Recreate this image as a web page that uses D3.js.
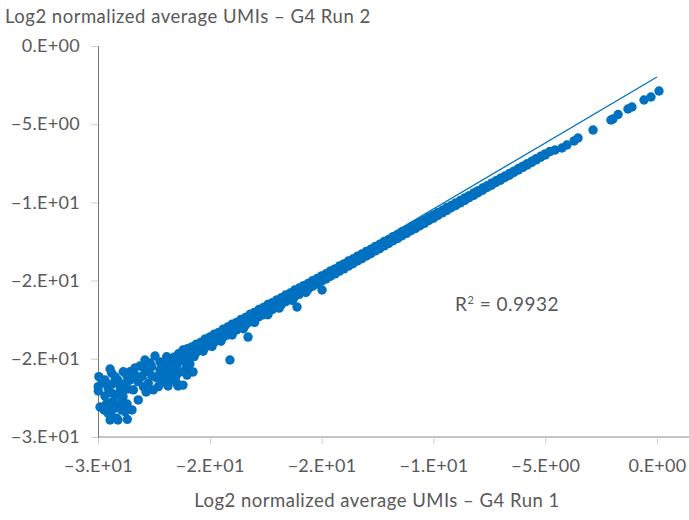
<!DOCTYPE html>
<html lang="en">
<head>
<meta charset="UTF-8">
<title>Log2 normalized average UMIs</title>
<script src="https://cdnjs.cloudflare.com/ajax/libs/d3/7.8.5/d3.min.js"></script>
<style>
  body { margin: 0; background: #fff; }
  svg text { font-family: 'Lato', 'Open Sans', sans-serif; fill: #595959; }
</style>
</head>
<body>
<div id="chart"></div>
<script>
// axis ticks (Excel style rounded scientific labels)
const xTicks = [-25, -20, -15, -10, -5, 0];
const xTickLabels = ["−3.E+01", "−2.E+01", "−2.E+01", "−1.E+01", "−5.E+00", "0.E+00"];
const yTicks = [0, -5, -10, -15, -20, -25];
const yTickLabels = ["0.E+00", "−5.E+00", "−1.E+01", "−2.E+01", "−2.E+01", "−3.E+01"];

// dense band of genes (upper and lower edge of the band)
const bandX = [-22.0,-21.8,-21.6,-21.4,-21.2,-21.0,-20.8,-20.6,-20.4,-20.2,
  -20.0,-19.8,-19.6,-19.4,-19.2,-19.0,-18.8,-18.6,-18.4,-18.2,
  -18.0,-17.8,-17.6,-17.4,-17.2,-17.0,-16.8,-16.6,-16.4,-16.2,
  -16.0,-15.8,-15.6,-15.4,-15.2,-15.0,-14.8,-14.6,-14.4,-14.2,
  -14.0,-13.8,-13.6,-13.4,-13.2,-13.0,-12.8,-12.6,-12.4,-12.2,
  -12.0,-11.8,-11.6,-11.4,-11.2,-11.0,-10.8,-10.6,-10.4,-10.2,
  -10.0,-9.8,-9.6,-9.4,-9.2,-9.0,-8.8,-8.6,-8.4,-8.2,
  -8.0,-7.8,-7.6,-7.4,-7.2,-7.0,-6.8,-6.6,-6.4,-6.2,
  -6.0,-5.8,-5.6,-5.4,-5.2,-5.0];
const bandHi = [-20.20,-19.99,-19.89,-19.68,-19.56,-19.35,-19.24,-19.06,-18.94,-18.73,
  -18.61,-18.42,-18.31,-18.10,-17.97,-17.78,-17.67,-17.48,-17.36,-17.15,
  -17.03,-16.85,-16.72,-16.52,-16.41,-16.23,-16.10,-15.91,-15.79,-15.60,
  -15.47,-15.32,-15.18,-15.00,-14.87,-14.70,-14.56,-14.38,-14.25,-14.07,
  -13.93,-13.75,-13.62,-13.44,-13.30,-13.13,-13.00,-12.82,-12.68,-12.50,
  -12.37,-12.19,-12.05,-11.87,-11.74,-11.57,-11.43,-11.26,-11.12,-10.94,
  -10.80,-10.65,-10.50,-10.33,-10.19,-10.03,-9.88,-9.71,-9.57,-9.40,
  -9.25,-9.08,-8.94,-8.77,-8.62,-8.46,-8.31,-8.15,-8.00,-7.83,
  -7.68,-7.52,-7.37,-7.20,-7.05,-6.90];
const bandLo = [-20.74,-20.53,-20.43,-20.22,-20.10,-19.90,-19.78,-19.57,-19.46,-19.26,
  -19.13,-18.93,-18.81,-18.60,-18.48,-18.29,-18.16,-17.96,-17.84,-17.64,
  -17.51,-17.31,-17.18,-16.99,-16.85,-16.67,-16.54,-16.34,-16.21,-16.02,
  -15.88,-15.69,-15.55,-15.36,-15.22,-15.04,-14.90,-14.72,-14.57,-14.39,
  -14.25,-14.07,-13.92,-13.74,-13.60,-13.43,-13.28,-13.10,-12.96,-12.78,
  -12.63,-12.45,-12.31,-12.13,-11.98,-11.81,-11.67,-11.49,-11.34,-11.16,
  -11.01,-10.84,-10.67,-10.52,-10.34,-10.20,-10.03,-9.88,-9.70,-9.55,
  -9.38,-9.22,-9.05,-8.90,-8.73,-8.58,-8.41,-8.26,-8.09,-7.93,
  -7.76,-7.61,-7.44,-7.28,-7.11,-6.97];

// stragglers just under the lower edge of the band
const edgeX = [-21.5,-21.1,-20.7,-20.3,-19.9,-19.5,-19.0,-18.5,-18.0,-17.4,-16.9,-16.3,-15.7];
const edgeY = [-20.49,-20.17,-19.86,-19.52,-19.21,-18.88,-18.48,-18.08,-17.68,-17.18,-16.76,-16.26,-15.76];

// low-expression scatter at bottom left
const lowX = [-24.96,-24.99,-24.99,-24.46,-24.39,-24.24,-23.87,-23.72,-23.57,-23.12,
  -22.94,-22.67,-22.60,-22.75,-23.20,-23.42,-23.20,-22.97,-22.75,-22.53,
  -22.30,-24.39,-24.16,-24.02,-23.88,-24.61,-24.33,-24.11,-23.88,-24.24,
  -23.94,-24.55,-24.39,-24.16,-24.46,-24.11,-23.79,-23.69,-21.93,-21.65,
  -21.78,-22.23,-22.00,-21.74,-22.37,-21.91,-21.48,-21.42,-21.20,-21.20,
  -20.75,-21.02,
  -24.69,-24.55,-24.37,-24.11,-24.02,-23.75,-23.57,-23.66,-23.93,-23.70,
  -24.69,-24.82,-23.35,-23.03,-22.85,-22.58,-22.32,-22.14,-21.87,-21.69,
  -21.51,-21.33,-21.06,-20.89,-22.23,-22.45,-22.90,-23.35,-24.91,-24.73,
  -23.48,-24.37];
const lowY = [-21.14,-21.78,-22.06,-20.65,-20.91,-21.14,-20.83,-21.04,-20.83,-20.46,
  -20.59,-20.27,-20.51,-20.83,-21.46,-21.99,-22.63,-21.78,-21.57,-21.99,
  -21.78,-22.19,-22.31,-22.10,-22.42,-22.85,-22.74,-22.95,-22.76,-23.15,
  -23.27,-23.47,-23.70,-23.79,-23.91,-23.91,-23.38,-23.87,-19.87,-20.08,
  -20.40,-20.72,-20.91,-20.78,-21.23,-21.23,-21.55,-21.74,-21.68,-19.44,
  -20.84,-21.04,
  -21.36,-21.87,-21.61,-21.36,-21.74,-21.55,-21.36,-21.93,-22.51,-22.89,
  -22.38,-21.55,-21.04,-21.10,-22.12,-21.10,-21.23,-21.48,-21.74,-21.36,
  -21.10,-20.84,-20.59,-20.33,-20.20,-19.82,-20.08,-20.59,-23.08,-23.27,
  -23.27,-23.21];

// points falling below the band
const outX = [-19.10, -18.29, -16.10, -14.98];
const outY = [-20.08, -18.61, -16.69, -15.60];

// sparse highly expressed genes at top right
const highX = [-4.79,-4.56,-4.25,-4.03,-3.71,-3.53,-2.86,-2.06,-1.97,-1.74,-1.30,-1.12,-0.58,-0.27,0.09];
const highY = [-6.75,-6.65,-6.52,-6.33,-6.07,-5.88,-5.37,-4.73,-4.67,-4.38,-4.03,-3.90,-3.45,-3.26,-2.88];

// linear trendline end points
const trendX = [-25, 0];
const trendY = [-23.08, -1.98];

const width = 689, height = 520;
const margin = {top: 46, right: 32, bottom: 83, left: 98};
const blue = "#0070c0";

const svg = d3.select("#chart").append("svg")
    .attr("width", width)
    .attr("height", height);

const x = d3.scaleLinear().domain([-25, 0]).range([margin.left, width - margin.right]);
const y = d3.scaleLinear().domain([-25, 0]).range([height - margin.bottom, margin.top]);

// x axis: line runs to the right edge
svg.append("line")
    .attr("x1", x(-25)).attr("x2", width)
    .attr("y1", y(-25)).attr("y2", y(-25))
    .attr("stroke", "#8c8c8c").attr("stroke-width", 1);

const xAxis = svg.append("g")
    .attr("transform", `translate(0,${y(-25)})`)
    .call(d3.axisBottom(x).tickValues(xTicks).tickSize(7)
        .tickFormat((d, i) => xTickLabels[i]));
xAxis.select(".domain").remove();
xAxis.selectAll(".tick line").attr("stroke", "#d0d0d0");
xAxis.selectAll(".tick text")
    .attr("y", 22).attr("dy", "0.71em")
    .style("font-size", "18px").style("letter-spacing", "0.3px")
    .attr("fill", "#595959");

const yAxis = svg.append("g")
    .attr("transform", `translate(${x(-25)},0)`)
    .call(d3.axisLeft(y).tickValues(yTicks).tickSize(7)
        .tickFormat((d, i) => yTickLabels[i]));
yAxis.select(".domain").attr("stroke", "#767676");
yAxis.selectAll(".tick line").attr("stroke", "#d0d0d0");
yAxis.selectAll(".tick text")
    .attr("x", -18)
    .style("font-size", "18px").style("letter-spacing", "0.3px")
    .attr("fill", "#595959");

// points
const groups = [[lowX, lowY], [edgeX, edgeY], [bandX, bandLo], [bandX, bandHi], [outX, outY], [highX, highY]];
const pts = [];
groups.forEach(([xs, ys]) => xs.forEach((v, i) => pts.push([v, ys[i]])));

svg.append("g").selectAll("circle")
    .data(pts)
    .enter().append("circle")
    .attr("cx", d => x(d[0]))
    .attr("cy", d => y(d[1]))
    .attr("r", 4.7)
    .attr("fill", blue);

// trendline
svg.append("line")
    .attr("x1", x(trendX[0])).attr("y1", y(trendY[0]))
    .attr("x2", x(trendX[1])).attr("y2", y(trendY[1]))
    .attr("stroke", blue).attr("stroke-width", 1.25);

// titles
svg.append("text")
    .attr("x", 5).attr("y", 23)
    .style("font-size", "18.5px").style("letter-spacing", "0.5px")
    .text("Log2 normalized average UMIs – G4 Run 2");

svg.append("text")
    .attr("x", 377).attr("y", 507)
    .attr("text-anchor", "middle")
    .style("font-size", "18.5px").style("letter-spacing", "0.5px")
    .text("Log2 normalized average UMIs – G4 Run 1");

const r2 = svg.append("text")
    .attr("x", 455).attr("y", 311)
    .style("font-size", "19px").style("letter-spacing", "0.5px");
r2.append("tspan").text("R");
r2.append("tspan").attr("dy", -7).style("font-size", "11px").text("2");
r2.append("tspan").attr("dy", 7).text(" = 0.9932");
</script>
</body>
</html>
